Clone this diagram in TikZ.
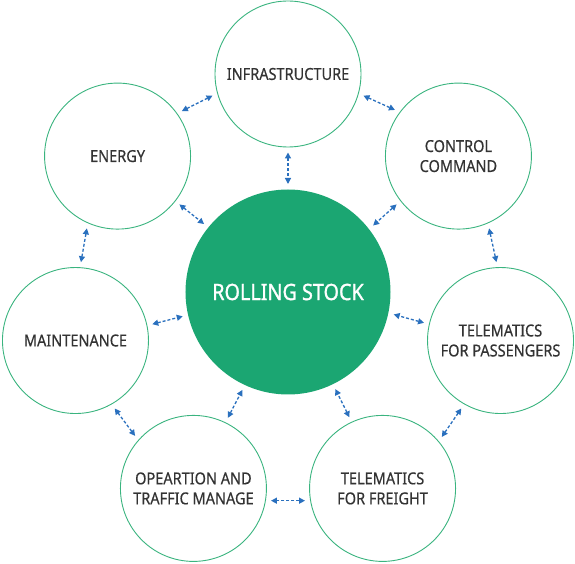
\documentclass[tikz,border=0pt]{standalone}
\usepackage{fontspec}
\setmainfont{Noto Sans}
\newfontfamily\labelfont[FakeStretch=0.88,FakeBold=0.4]{Noto Sans}
\newfontfamily\hubfont[FakeStretch=0.88,FakeBold=1.2]{Noto Sans}
\usetikzlibrary{arrows.meta}

\definecolor{railgreen}{HTML}{1BA672}
\definecolor{ringgreen}{HTML}{3AB47F}
\definecolor{linkblue}{HTML}{2A70BE}
\definecolor{labelgray}{HTML}{333333}

\begin{document}
\begin{tikzpicture}[x=1pt,y=1pt,
    sector/.style={circle, draw=ringgreen, line width=0.9pt, fill=white,
        minimum size=146pt, inner sep=0pt, outer sep=5.5pt, align=center,
        text=labelgray, font=\labelfont\fontsize{16.5}{20}\selectfont},
    hub/.style={circle, fill=railgreen, minimum size=205pt, inner sep=0pt,
        outer sep=5.5pt, text=white, font=\hubfont\fontsize{22.5}{26}\selectfont},
    link/.style={linkblue, line width=1.3pt, dash pattern=on 3pt off 2pt,
        {Triangle[length=6pt,width=6pt]}-{Triangle[length=6pt,width=6pt]}}]

    % Fix the page size
    \useasboundingbox (-288,-272) rectangle (287,292);

    % Draw the central circle
    \node[hub] (stock) at (0,0) {ROLLING STOCK};

    % Draw the outer circles
    \node[sector] (infra)   at (90:218)      {INFRASTRUCTURE};
    \node[sector] (control) at (38.57:218)   {CONTROL\\COMMAND};
    \node[sector] (pass)    at (-12.86:218)  {TELEMATICS\\FOR PASSENGERS};
    \node[sector] (freight) at (-64.29:218)  {TELEMATICS\\FOR FREIGHT};
    \node[sector] (oper)    at (-115.71:218) {OPEARTION AND\\TRAFFIC MANAGE};
    \node[sector] (maint)   at (-167.14:218) {MAINTENANCE};
    \node[sector] (energy)  at (141.43:218)  {ENERGY};

    % Arrows between neighbouring circles
    \draw[link] (infra.-16.2) -- (control.144.8);
    \draw[link] (control.-67.6) -- (pass.93.4);
    \draw[link] (pass.240.9) -- (freight.41.9);
    \draw[link] (freight.189.5) -- (oper.-9.5);
    \draw[link] (oper.138.1) -- (maint.-60.9);
    \draw[link] (maint.86.6) -- (energy.247.6);
    \draw[link] (energy.35.2) -- (infra.196.2);

    % Arrows to the central circle
    \draw[link] (infra.-90) -- (stock.90);
    \draw[link] (control.218.57) -- (stock.38.57);
    \draw[link] (pass.167.14) -- (stock.-12.86);
    \draw[link] (freight.115.71) -- (stock.-64.29);
    \draw[link] (oper.64.29) -- (stock.-115.71);
    \draw[link] (maint.12.86) -- (stock.-167.14);
    \draw[link] (energy.-38.57) -- (stock.141.43);

\end{tikzpicture}
\end{document}
